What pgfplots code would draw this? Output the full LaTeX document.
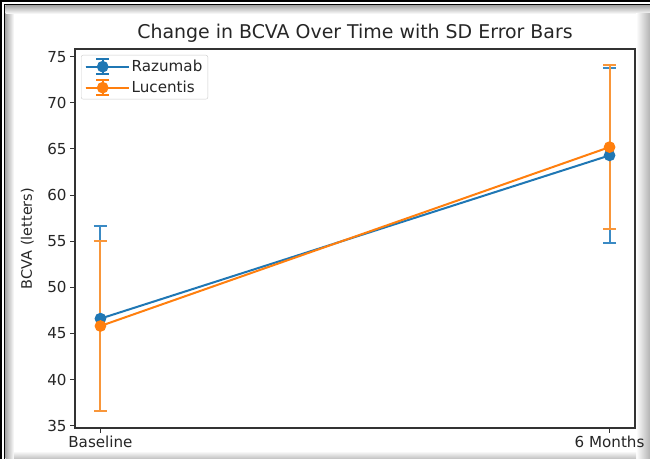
\documentclass[border=0pt]{standalone}
\usepackage{fontspec}
\setmainfont{DejaVu Sans}
\usepackage{pgfplots}
\usepackage{pgfplotstable}
\pgfplotsset{compat=1.18}
\definecolor{tabblue}{HTML}{1F77B4}
\definecolor{taborange}{HTML}{FF7F0E}
\definecolor{ebblue}{HTML}{3A8AC4}
\definecolor{eborange}{HTML}{F8963A}

\pgfplotstableread{
x y e
0 46.6 10.0
1 64.3 9.5
}\razumab
\pgfplotstableread{
x y e
0 45.8 9.2
1 65.2 8.9
}\lucentis

\pgfplotsset{
  ebleg/.style={legend image code/.code={
    \path (0bp,0bp) -- (43bp,0bp);
    \draw[#1, line width=2bp] (0bp,0bp) -- (34bp,0bp);
    \draw[#1, line width=1.8bp] (17bp,-7.5bp) -- (17bp,7.5bp);
    \draw[#1, line width=1.8bp] (10.5bp,-7.5bp) -- (23.5bp,-7.5bp) (10.5bp,7.5bp) -- (23.5bp,7.5bp);
    \fill[#1] (17bp,0bp) circle (4.8bp);
  }}
}

\begin{document}
\begin{tikzpicture}[x=1bp,y=1bp]
\fill[white] (0,0) rectangle (650,459);
% bevel / shadow of the screenshot frame
\shade[left color=black!35, right color=white] (5.5,0) rectangle (14,453.5);
\shade[top color=black!35, bottom color=white] (5.5,445) rectangle (650,453.5);
\shade[left color=white, right color=black!30] (636,0) rectangle (650,445);
\shade[bottom color=black!25, top color=white] (14,0) rectangle (636,8);
\draw[black, line width=2bp] (1.25,0) -- (1.25,457.75) -- (650,457.75);
\draw[black, line width=1.5bp] (4.5,0) -- (4.5,454.5) -- (650,454.5);

\begin{axis}[
  at={(75bp,31bp)}, anchor=south west,
  scale only axis, width=560bp, height=379bp,
  xmin=-0.05, xmax=1.05, ymin=34.74, ymax=75.84,
  xtick={0,1}, xticklabels={Baseline,6 Months},
  ytick={35,40,...,75},
  xtick pos=bottom, ytick pos=left,
  tick align=outside, major tick length=4.9bp,
  every tick/.style={black!80, line width=1.1bp},
  axis line style={line width=1.1bp, black!80},
  /pgf/number format/assume math mode=true,
  ticklabel style={font=\fontsize{15.2}{17}\selectfont, text=black!85},
  title={Change in BCVA Over Time with SD Error Bars},
  title style={font=\fontsize{19}{22}\selectfont, at={(axis description cs:0.5,1)}, anchor=base, yshift=5bp, text=black!85},
  ylabel={BCVA (letters)},
  ylabel style={font=\fontsize{14.5}{16}\selectfont, at={(axis description cs:-0.085,0.5)}, anchor=center, text=black!85},
  legend style={at={(axis description cs:0,1)}, anchor=north west, xshift=6bp, yshift=-6bp,
    draw=black!20, rounded corners=2bp, font=\fontsize{15.2}{17}\selectfont,
    row sep=4bp, inner xsep=3.5bp, inner ysep=3bp, text=black!85},
  legend cell align=left,
]
\addplot[color=tabblue, line width=2bp, mark=*, mark size=4.8bp, mark options={solid, fill=tabblue},
  ebleg=tabblue,
  error bars/.cd, y dir=both, y explicit,
  error bar style={line width=2bp, color=ebblue},
  error mark options={rotate=90, mark size=6.5bp, line width=2bp, color=ebblue}]
  table[x=x, y=y, y error=e] {\razumab};
\addlegendentry{Razumab}
\addplot[color=taborange, line width=2bp, mark=*, mark size=4.8bp, mark options={solid, fill=taborange},
  ebleg=taborange,
  error bars/.cd, y dir=both, y explicit,
  error bar style={line width=2bp, color=eborange},
  error mark options={rotate=90, mark size=6.5bp, line width=2bp, color=eborange}]
  table[x=x, y=y, y error=e] {\lucentis};
\addlegendentry{Lucentis}
\end{axis}
\pgfresetboundingbox
\path (0,0) rectangle (650,459);
\end{tikzpicture}
\end{document}
